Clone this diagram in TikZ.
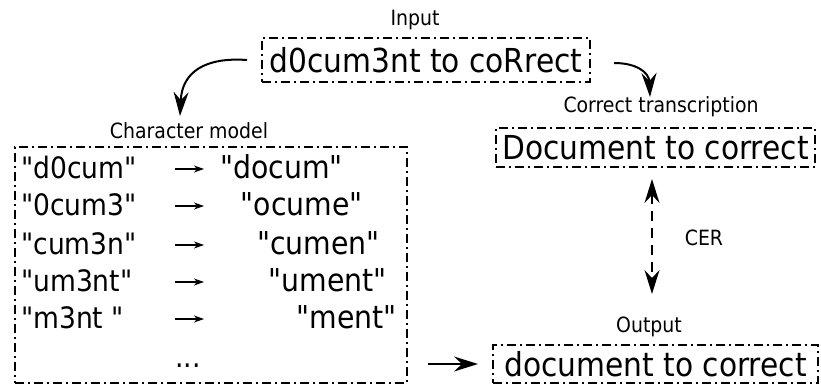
\documentclass[tikz,border=0pt]{standalone}
\usepackage{fontspec}
\setmainfont{DejaVu Sans Condensed}[Ligatures=TeXOff]
\usetikzlibrary{arrows.meta,calc}
\begin{document}
\begin{tikzpicture}[x=1pt,y=-1pt,
  dashdot/.style={draw, line width=2pt, dash pattern=on 9pt off 4pt on 2pt off 4pt},
  boxnode/.style={dashdot, font=\fontsize{33}{38}\selectfont, inner sep=0pt},
  labeltext/.style={font=\fontsize{21}{25}\selectfont, anchor=base, inner sep=0pt},
  lefttext/.style={font=\fontsize{29.5}{34}\selectfont, anchor=base west, inner sep=0pt},
  righttext/.style={font=\fontsize{31.5}{36}\selectfont, anchor=base east, inner sep=0pt},
  bigtip/.tip={Stealth[length=24pt,width=15pt,inset=8pt]},
  bigarrow/.style={line width=2pt, -bigtip},
  cerarrow/.style={line width=1.8pt, dash pattern=on 10pt off 7pt, bigtip-bigtip},
  maparrow/.style={line width=1.1pt, -{Stealth[length=10pt,width=7pt,inset=3pt]}}
]
\useasboundingbox (0,0) rectangle (821,385);

% labels
\node[labeltext] (inlabel)  at (415,26)  {Input};
\node[labeltext] (cmlabel)  at (189,138) {Character model};
\node[labeltext] (ctlabel)  at (661,113) {Correct transcription};
\node[labeltext] (outlabel) at (649,332) {Output};
\node[labeltext] (cerlabel) at (704,245) {CER};

% boxes
\node[boxnode, minimum width=328pt, minimum height=44pt] (input)   at (426,60)    {d0cum3nt to coRrect};
\node[boxnode, minimum width=319pt, minimum height=39pt] (correct) at (655.5,147.5) {Document to correct};
\node[boxnode, minimum width=325pt, minimum height=38pt] (output)  at (655.5,364)  {document to correct};
\node[dashdot, minimum width=392pt, minimum height=236pt, inner sep=0pt] (charbox) at (211,265) {};

% character model rows
\node[lefttext] (l1) at (21,178) {"d0cum"};
\node[lefttext] (l2) at (21,215) {"0cum3"};
\node[lefttext] (l3) at (21,254) {"cum3n"};
\node[lefttext] (l4) at (21,291) {"um3nt"};
\node[lefttext] (l5) at (21,328) {"m3nt "};
\node[righttext] (r1) at (343,178) {"docum"};
\node[righttext] (r2) at (363,215) {"ocume"};
\node[righttext] (r3) at (380,254) {"cumen"};
\node[righttext] (r4) at (387,291) {"ument"};
\node[righttext] (r5) at (397,328) {"ment"};
\node[lefttext, anchor=base] (dots) at (188,367) {...};

\foreach \y in {169,206,245,282,319}
  \draw[maparrow] (175,\y) -- (204,\y);

% connectors
\coordinate (cmtip) at (180,116);
\coordinate (cttip) at (650,97);
\draw[bigarrow] ([xshift=-14pt]input.west) .. controls (205,57) and (182,72) .. (cmtip);
\draw[bigarrow] ([xshift=23pt,yshift=-3pt]input.east) .. controls (636,63) and (649,72) .. (cttip);
\draw[cerarrow] ([yshift=-11pt]correct.south -| 652,0) -- ([yshift=50pt]output.north -| 652,0);
\draw[bigarrow] ([xshift=20pt]charbox.east |- output.center) -- ([xshift=-14pt]output.west);
\end{tikzpicture}
\end{document}
